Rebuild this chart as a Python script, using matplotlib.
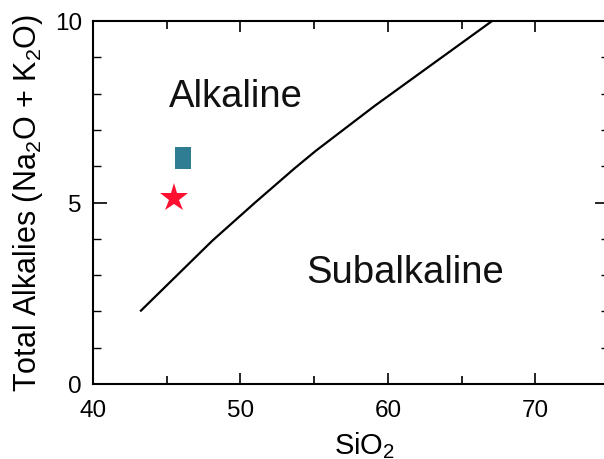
import matplotlib
matplotlib.use("Agg")
import matplotlib.pyplot as plt
from matplotlib.ticker import MultipleLocator

plt.rcParams['font.family'] = ['Liberation Sans', 'DejaVu Sans']
plt.rcParams['mathtext.fontset'] = 'custom'
plt.rcParams['mathtext.rm'] = 'Liberation Sans'
plt.rcParams['mathtext.it'] = 'Liberation Sans:italic'

# Alkaline / Subalkaline boundary (Irvine & Baragar)
boundary_sio2 = [43.2, 48.1, 51.0, 53.7, 55.1, 59.1, 67.07]
boundary_alk = [2.0, 3.95, 5.0, 5.95, 6.42, 7.66, 10.0]

# Sample points
square_sio2 = [46.1]
square_alk = [6.23]
star_sio2 = [45.5]
star_alk = [5.12]

region_labels = ["Alkaline", "Subalkaline"]
region_x = [49.66, 61.18]
region_y = [7.66, 2.81]

x_ticks = [40, 50, 60, 70]
y_ticks = [0, 5, 10]

fig = plt.figure(figsize=(6.04, 4.6), dpi=100)
ax = fig.add_axes([93/604, 75/460, 516/604, 363/460])

ax.plot(boundary_sio2, boundary_alk, color='black', lw=1.6,
        solid_capstyle='butt', solid_joinstyle='round')

rect = [(-0.36, -0.5), (0.36, -0.5), (0.36, 0.5), (-0.36, 0.5), (-0.36, -0.5)]
ax.plot(square_sio2, square_alk, linestyle='none', marker=rect, markersize=16,
        color='#2f7d92', markeredgewidth=0)
ax.plot(star_sio2, star_alk, linestyle='none', marker='*', markersize=21,
        color='#ff1030', markeredgewidth=0)

for lab, x, y in zip(region_labels, region_x, region_y):
    ax.text(x, y, lab, fontsize=27.5, ha='center', va='baseline', color='#111111')

ax.set_xlim(40, 75)
ax.set_ylim(0, 10)
ax.set_xticks(x_ticks)
ax.set_yticks(y_ticks)
ax.xaxis.set_minor_locator(MultipleLocator(5))
ax.yaxis.set_minor_locator(MultipleLocator(1))

ax.tick_params(which='both', direction='in', top=True, right=True, colors='black')
ax.tick_params(axis='x', which='major', length=8, width=1.2, labelsize=17.5, pad=11)
ax.tick_params(axis='x', which='minor', length=6, width=1.2)
ax.tick_params(axis='y', which='major', length=10, width=1.2, labelsize=17.5, pad=8)
ax.tick_params(axis='y', which='minor', length=6, width=1.0)

for s in ax.spines.values():
    s.set_linewidth(1.5)

ax.set_xlabel(r'SiO$_2$', fontsize=21)
ax.xaxis.set_label_coords(0.527, -0.125)
ax.set_ylabel(r'Total Alkalies (Na$_2$O + K$_2$O)', fontsize=22, va='center')
ax.yaxis.set_label_coords(-0.125, 0.5)

fig.savefig('out.png', dpi=100)
